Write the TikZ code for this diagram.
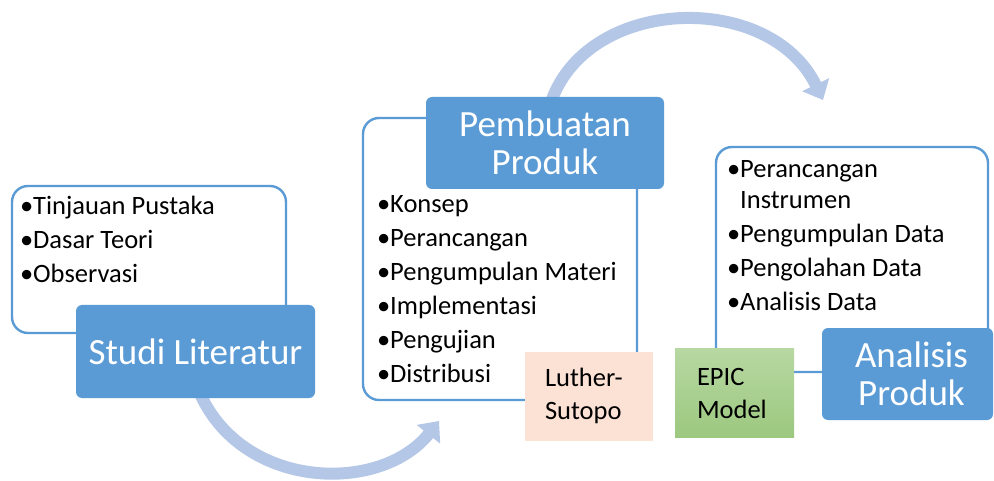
\documentclass[tikz,border=0pt]{standalone}
\usepackage{fontspec}
\setmainfont{Carlito}
\usetikzlibrary{positioning, fit, arrows.meta, backgrounds}
\definecolor{titleblue}{HTML}{5B9BD5}
\definecolor{arrowblue}{HTML}{B4C7E7}
\definecolor{peach}{HTML}{FBE2D5}
\definecolor{epictop}{HTML}{B7D8A2}
\definecolor{epicbottom}{HTML}{9CC87F}

\begin{document}
\begin{tikzpicture}
    [x = 1pt, y = -1pt, outer sep = 0pt,
    listbox/.style={rectangle, draw=titleblue, fill=white, line width =
      2.4pt, rounded corners = 16pt, inner sep = 0pt},
    title/.style={rectangle, fill=titleblue, text=white, rounded corners =
      6pt, inner sep = 0pt, align=center, font=\fontsize{37}{38}\selectfont},
    items/.style={anchor=base west, align=left, inner sep = 0pt,
      font=\fontsize{26.5}{34}\selectfont},
    method/.style={rectangle, inner ysep = 0pt, align=left, minimum height =
      89pt, font=\fontsize{26.5}{33}\selectfont},
    bigarrow/.style={draw=arrowblue, line width = 12pt,
      -{Triangle[length = 17pt, width = 29pt]}}]

    \path [use as bounding box] (0,0) rectangle (994,481);

    % white boxes holding the steps
    \node (studi_box) [listbox, fit={(12,186) (286,333)}] {};
    \node (produk_box) [listbox, fit={(363,118) (637,400)}] {};
    \node (analisis_box) [listbox, fit={(716,147) (988,372)}] {};

    % stage titles
    \node (studi_title) [title, minimum width = 239pt, minimum height = 93pt]
    at (195.5,351.5) {Studi Literatur};
    \node (produk_title) [title, minimum width = 238pt, minimum height = 92pt]
    at (545,143) {Pembuatan\\Produk};
    \node (analisis_title) [title, minimum width = 171pt, minimum height = 92pt,
    label={[text=white, align=center, xshift=4pt,
      font=\fontsize{37}{38}\selectfont]center:Analisis\\Produk}]
    at (907.5,374) {};

    % arrows between the stages, kept under the titles
    \coordinate (produk_in) at (439,421);
    \coordinate (analisis_in) at (823,100);
    \begin{scope}[on background layer]
      \fill [white] (0,0) rectangle (994,481);
      \draw [bigarrow] ([xshift=3pt, yshift=8pt]studi_title.south) .. controls
      (240,490) and (380,495) .. (produk_in);
      \draw [bigarrow] ([xshift=5pt, yshift=-8pt]produk_title.north) .. controls
      (585,-5) and (770,-10) .. (analisis_in);
    \end{scope}

    % models used
    \node (luther_box) [method, fill=peach, text width = 88pt, inner xsep =
    20pt] at (589,396) {Luther-\\Sutopo};
    \node (epic_box) [method, top color=epictop, bottom color=epicbottom,
    text width = 75pt, inner xsep = 22pt] at (734.5,393) {EPIC\\Model};

    % step lists (placed by the baseline of their last line)
    \node (studi_list) [items] at (20,283)
    {•Tinjauan Pustaka\\•Dasar Teori\\•Observasi};
    \node (produk_list) [items] at (377,382)
    {•Konsep\\•Perancangan\\•Pengumpulan Materi\\•Implementasi\\•Pengujian\\•Distribusi};
    \node (analisis_list) [items] at (727,310)
    {•Perancangan\\[-3pt]\phantom{•}Instrumen\\•Pengumpulan Data\\•Pengolahan Data\\•Analisis Data};
  \end{tikzpicture}
\end{document}
